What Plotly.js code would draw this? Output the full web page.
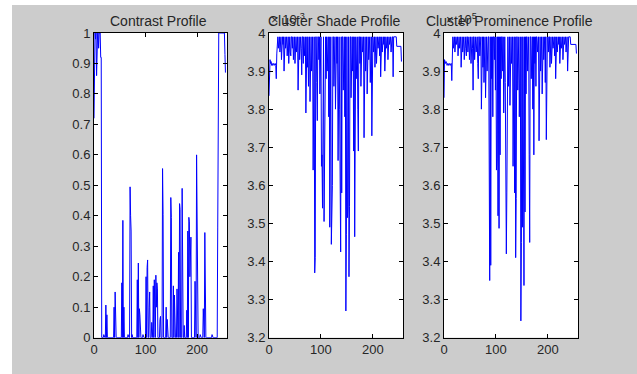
<!DOCTYPE html>
<html>
<head>
<meta charset="utf-8">
<script src="https://cdn.plot.ly/plotly-3.0.1.min.js"></script>
<style>
html,body{margin:0;padding:0;background:#ffffff;}
#chart{position:absolute;left:12px;top:5px;width:625px;height:369px;}
</style>
</head>
<body>
<div id="chart"></div>
<script>
// ---- data ----
var titles = ["Contrast Profile", "Cluster Shade Profile", "Cluster Prominence Profile"];
var xTicks = [0, 100, 200];
var contrastTicks = [0, 0.1, 0.2, 0.3, 0.4, 0.5, 0.6, 0.7, 0.8, 0.9, 1];
var clusterTicks = [3.2, 3.3, 3.4, 3.5, 3.6, 3.7, 3.8, 3.9, 4];
var shadeExponent = "× 10<sup>-3</sup>";
var promExponent = "× 10<sup>5</sup>";

var contrast = [
0.72,1,1,0.98,1,0.86,1,1,1,0.95,1,1,1,0.92,0.92,0,
0,0,0,0.01,0,0,0,0.107,0,0.075,0,0,0,0,0,0,
0,0,0,0,0,0,0,0.1,0,0.15,0,0,0,0,0,0,
0,0,0,0,0,0,0.18,0,0.385,0,0.1,0,0,0,0,0,
0,0,0.01,0,0,0,0.495,0.4,0.35,0,0.01,0,0,0,0,0,
0,0,0,0,0.19,0,0.245,0,0.095,0.075,0,0,0,0,0,0.01,
0,0,0,0,0,0.2,0,0.23,0.255,0,0,0.1,0.15,0,0,0,
0.05,0,0,0.17,0,0.19,0.1,0,0.205,0.1,0.18,0.16,0,0,0,0,
0.06,0.07,0,0,0,0.555,0.405,0,0,0,0,0,0.1,0,0.06,0,
0,0,0,0,0,0.46,0.395,0,0,0,0.17,0,0.14,0,0,0,
0,0.16,0,0,0.28,0,0.44,0.42,0,0,0,0.49,0,0,0,0.04,
0,0,0,0,0.09,0,0.35,0,0.395,0.38,0.2,0.3,0.33,0,0,0,
0,0,0,0,0.185,0,0,0.6,0.41,0,0,0,0,0,0.01,0,
0,0,0,0,0.095,0,0,0.345,0,0,0,0,0,0,0,0,
0,0,0,0,0,0.01,0,0,0,0,0,0,0,0,0,0,
0.36,1,1,1,1,1,1,1,1,1,1,1,1,1,0.93,0.87
];

var shade = [
3.835,3.925,3.93,3.92,3.925,3.915,3.92,3.915,3.92,3.92,3.915,3.92,3.92,3.915,3.88,3.945,
3.99,3.99,3.96,3.99,3.99,3.95,3.99,3.99,3.93,3.99,3.99,3.97,3.99,3.90,3.99,3.99,
3.96,3.99,3.99,3.94,3.99,3.99,3.92,3.99,3.99,3.95,3.94,3.99,3.99,3.96,3.99,3.93,
3.99,3.99,3.92,3.99,3.99,3.95,3.99,3.99,3.85,3.99,3.99,3.93,3.99,3.99,3.96,3.89,
3.99,3.99,3.92,3.99,3.94,3.99,3.99,3.79,3.99,3.99,3.91,3.99,3.86,3.99,3.99,3.82,
3.99,3.99,3.90,3.99,3.99,3.64,3.99,3.99,3.37,3.41,3.99,3.99,3.87,3.77,3.99,3.99,
3.93,3.99,3.84,3.99,3.99,3.65,3.68,3.54,3.99,3.99,3.505,3.69,3.99,3.99,3.88,3.99,
3.90,3.99,3.99,3.78,3.99,3.49,3.99,3.99,3.445,3.525,3.60,3.99,3.99,3.86,3.99,3.99,
3.80,3.99,3.99,3.92,3.99,3.665,3.99,3.99,3.80,3.595,3.425,3.99,3.58,3.99,3.99,3.85,
3.99,3.99,3.78,3.99,3.27,3.47,3.99,3.515,3.545,3.99,3.36,3.545,3.99,3.99,3.83,3.99,
3.99,3.90,3.99,3.69,3.99,3.465,3.99,3.99,3.88,3.99,3.99,3.80,3.69,3.99,3.99,3.92,
3.99,3.86,3.99,3.99,3.95,3.99,3.99,3.725,3.99,3.99,3.90,3.99,3.99,3.84,3.99,3.99,
3.93,3.99,3.99,3.87,3.99,3.99,3.73,3.99,3.99,3.95,3.99,3.99,3.91,3.99,3.99,3.92,
3.99,3.99,3.96,3.99,3.99,3.94,3.99,3.885,3.99,3.99,3.95,3.99,3.99,3.97,3.99,3.90,
3.99,3.99,3.96,3.99,3.99,3.93,3.99,3.99,3.97,3.99,3.99,3.95,3.99,3.99,3.99,3.885,
3.99,3.99,3.99,3.99,3.99,3.99,3.965,3.965,3.965,3.965,3.965,3.965,3.965,3.965,3.965,3.925
];

var prominence = [
3.83,3.93,3.925,3.92,3.925,3.92,3.915,3.92,3.92,3.915,3.92,3.92,3.915,3.92,3.92,3.875,
3.95,3.99,3.96,3.99,3.99,3.95,3.99,3.99,3.97,3.99,3.99,3.94,3.99,3.99,3.96,3.99,
3.99,3.91,3.99,3.99,3.95,3.99,3.99,3.93,3.99,3.99,3.96,3.94,3.99,3.99,3.95,3.99,
3.99,3.93,3.99,3.99,3.92,3.99,3.99,3.96,3.85,3.99,3.99,3.93,3.99,3.99,3.95,3.99,
3.99,3.92,3.88,3.99,3.99,3.94,3.99,3.99,3.80,3.99,3.99,3.91,3.99,3.87,3.99,3.99,
3.83,3.99,3.99,3.90,3.99,3.99,3.99,3.63,3.35,3.99,3.39,3.99,3.88,3.99,3.78,3.99,
3.99,3.93,3.99,3.85,3.99,3.64,3.67,3.99,3.52,3.99,3.487,3.99,3.68,3.99,3.88,3.99,
3.99,3.90,3.99,3.79,3.99,3.99,3.87,3.47,3.42,3.58,3.99,3.99,3.86,3.99,3.99,3.81,
3.99,3.99,3.92,3.99,3.99,3.65,3.99,3.99,3.58,3.99,3.41,3.565,3.99,3.99,3.85,3.99,
3.99,3.78,3.99,3.99,3.244,3.45,3.99,3.49,3.99,3.53,3.337,3.99,3.53,3.99,3.84,3.99,
3.99,3.90,3.99,3.99,3.68,3.45,3.99,3.99,3.88,3.99,3.99,3.80,3.99,3.68,3.99,3.92,
3.99,3.86,3.99,3.99,3.95,3.99,3.99,3.717,3.99,3.99,3.90,3.99,3.99,3.84,3.99,3.99,
3.93,3.99,3.99,3.87,3.99,3.72,3.99,3.99,3.99,3.95,3.99,3.99,3.91,3.99,3.99,3.92,
3.99,3.99,3.96,3.99,3.99,3.94,3.99,3.88,3.99,3.99,3.95,3.99,3.99,3.97,3.99,3.92,
3.99,3.99,3.96,3.99,3.99,3.93,3.99,3.99,3.97,3.99,3.99,3.95,3.99,3.99,3.90,3.99,
3.99,3.99,3.99,3.99,3.97,3.97,3.97,3.97,3.97,3.97,3.97,3.97,3.97,3.97,3.97,3.946
];

// ---- build ----
var idx = contrast.map(function(_, i){ return i; });
var lineStyle = {color: '#0000ff', width: 1};
var traces = [
  {x: idx, y: contrast, type: 'scatter', mode: 'lines', line: lineStyle, xaxis: 'x', yaxis: 'y', hoverinfo: 'skip'},
  {x: idx, y: shade, type: 'scatter', mode: 'lines', line: lineStyle, xaxis: 'x2', yaxis: 'y2', hoverinfo: 'skip'},
  {x: idx, y: prominence, type: 'scatter', mode: 'lines', line: lineStyle, xaxis: 'x3', yaxis: 'y3', hoverinfo: 'skip'}
];

var tickFont = {family: 'Liberation Sans, Arial, sans-serif', size: 13, color: '#262626'};
function xa(dom, anchor){
  return {domain: dom, anchor: anchor, range: [0, 258], tickvals: xTicks, ticktext: xTicks.map(String),
    showline: true, mirror: 'ticks', linecolor: '#000', linewidth: 1, ticks: 'inside', ticklen: 4,
    tickcolor: '#000', showgrid: false, zeroline: false, tickfont: tickFont, fixedrange: true};
}
function ya(anchor, rng, tv){
  return {domain: [0.0985, 0.9241], anchor: anchor, range: rng, tickvals: tv, ticktext: tv.map(String),
    showline: true, mirror: 'ticks', linecolor: '#000', linewidth: 1, ticks: 'inside', ticklen: 4,
    tickcolor: '#000', showgrid: false, zeroline: false, tickfont: tickFont, fixedrange: true};
}
var doms = [[0.1312, 0.344], [0.4112, 0.6256], [0.6912, 0.9056]];
var titleFont = {family: 'Liberation Sans, Arial, sans-serif', size: 14, color: '#262626'};
var annotations = titles.map(function(t, i){
  return {text: t, xref: 'paper', yref: 'paper', x: (doms[i][0] + doms[i][1]) / 2 - 0.003, y: 0.9575,
    xanchor: 'center', yanchor: 'middle', showarrow: false, font: titleFont};
});
annotations.push({text: shadeExponent, xref: 'paper', yref: 'paper', x: doms[1][0], y: 0.935,
  xanchor: 'left', yanchor: 'bottom', showarrow: false, font: tickFont});
annotations.push({text: promExponent, xref: 'paper', yref: 'paper', x: doms[2][0], y: 0.935,
  xanchor: 'left', yanchor: 'bottom', showarrow: false, font: tickFont});

var layout = {
  width: 625, height: 369,
  margin: {l: 0, r: 0, t: 0, b: 0},
  paper_bgcolor: '#cccccc', plot_bgcolor: '#ffffff',
  showlegend: false,
  xaxis: xa(doms[0], 'y'), yaxis: ya('x', [0, 1], contrastTicks),
  xaxis2: xa(doms[1], 'y2'), yaxis2: ya('x2', [3.2, 4], clusterTicks),
  xaxis3: xa(doms[2], 'y3'), yaxis3: ya('x3', [3.2, 4], clusterTicks),
  annotations: annotations
};
Plotly.newPlot('chart', traces, layout, {displayModeBar: false, staticPlot: true});
</script>
</body>
</html>
